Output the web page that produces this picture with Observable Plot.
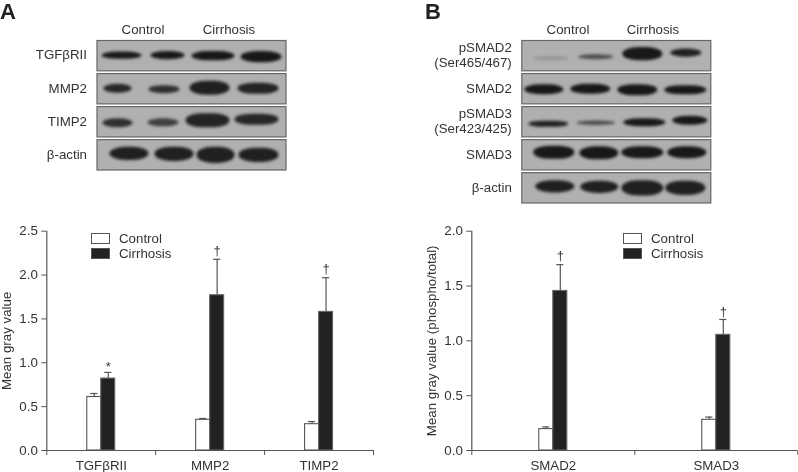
<!DOCTYPE html>
<html><head><meta charset="utf-8">
<script src="https://cdn.jsdelivr.net/npm/d3@7"></script>
<script src="https://cdn.jsdelivr.net/npm/@observablehq/plot@0.6"></script>
<style>
html,body{margin:0;padding:0;background:#fff;width:798px;height:472px;overflow:hidden;font-family:"Liberation Sans",Arial,sans-serif;color:#333}
.abs{position:absolute;will-change:transform}
.abs svg{overflow:visible;display:block;background:transparent}
.t{position:absolute;font-size:13.3px;line-height:15px;white-space:nowrap;color:#333;will-change:transform}
.letter{position:absolute;font-size:22px;font-weight:bold;line-height:22px;color:#222;will-change:transform}
.sw{position:absolute;width:17px;height:9px;border:1px solid #555;box-sizing:content-box}
</style></head><body>
<div id="root"></div>
<script>
// Panel A bar chart
const groupsA = ["TGFβRII","MMP2","TIMP2"];
const controlA = [0.61,0.35,0.30];
const controlAHigh = [0.65,0.365,0.33];
const cirrhosisA = [0.82,1.77,1.58];
const cirrhosisAHigh = [0.89,2.18,1.97];
const marksA = ["*","†","†"];
const markAY = [0.955,2.28,2.07];
// Panel B bar chart
const groupsB = ["SMAD2","SMAD3"];
const controlB = [0.195,0.28];
const controlBHigh = [0.215,0.305];
const cirrhosisB = [1.455,1.055];
const cirrhosisBHigh = [1.695,1.195];
const marksB = ["†","†"];
const markBY = [1.775,1.265];
// Blot rows: [left, right, centre, thickness, darkness] read in lane units
const rowsA = ["TGFβRII","MMP2","TIMP2","β-actin"];
const blotA = [
 [[5,45,15,7,1],[54,88,15,8,1],[95,138,15.5,9,1],[144,185,16.5,11,1]],
 [[7,35,15,9,.9],[52,83,16,8,.85],[93,133,14.5,14,.95],[141,182,15,11,.92]],
 [[6,36,16.5,9,.85],[51,82,16,8,.75],[89,133,14,14,.92],[138,182,13,11,.9]],
 [[13,52,14,13,.95],[58,97,14.5,14,.95],[100,138,15.5,16,.95],[142,182,15.5,14,.95]]
];
const rowsB = ["pSMAD2\n(Ser465/467)","SMAD2","pSMAD3\n(Ser423/425)","SMAD3","β-actin"];
const blotB = [
 [[12,47,18,3,.22],[57,92,16.5,5,.65],[101,141,13.5,13,1],[149,180,12.5,8,.95]],
 [[3,42,16,10,1],[49,89,15.5,10,1],[96,136,16.5,11,1],[143,185,16.5,9,1]],
 [[7,47,17.5,6,.95],[55,94,16.5,4.5,.65],[102,144,16,8,1],[151,186,14,9,1]],
 [[12,53,13,13,1],[58,97,13.5,13,1],[100,142,13,12,1],[146,185,13,12,1]],
 [[14,53,14,12,.95],[59,97,14.5,12,.95],[100,142,15.5,15,.95],[144,184,15.5,14,.95]]
];

const root = document.getElementById("root");
function place(el,left,top){const d=document.createElement("div");d.className="abs";d.style.left=left+"px";d.style.top=top+"px";d.appendChild(el);root.appendChild(d);}
function label(txt,x,y,cls,anchor){const s=document.createElement("div");s.className=cls||"t";s.textContent=txt;s.style.left=x+"px";s.style.top=y+"px";if(anchor==="middle")s.style.transform="translateX(-50%)";root.appendChild(s);}
function swatch(x,y,fill){const s=document.createElement("div");s.className="sw";s.style.left=x+"px";s.style.top=y+"px";s.style.background=fill;root.appendChild(s);}

function blot(rows,bands,left,marginLeft,height){
  const data = rows.flatMap((r,i)=>bands[i].map(b=>({row:r,x1:b[0],x2:b[1],y1:b[2]-b[3]/2,y2:b[2]+b[3]/2,o:b[4]})));
  const plot = Plot.plot({
    width:marginLeft+190,height,marginLeft,marginRight:1,marginTop:0,marginBottom:0,
    style:{background:"transparent",fontFamily:'"Liberation Sans",Arial,sans-serif',fontSize:"13.3px",color:"#333",overflow:"visible"},
    x:{domain:[0,189],axis:null},
    y:{domain:[30,0],axis:null},
    fy:{domain:rows,paddingInner:0.083,paddingOuter:0,round:false,axis:null,label:null},
    marks:[
      Plot.frame({fill:"#b0b0b0",stroke:"#666",strokeWidth:1.2}),
      Plot.rect(data,{fy:"row",x1:"x1",x2:"x2",y1:"y1",y2:"y2",fill:"#181818",fillOpacity:"o",rx:16,ry:8,ariaLabel:"band",
        render(index,scales,values,dimensions,context,next){const g=next(index,scales,values,dimensions,context);g.style.filter="blur(1.5px)";return g;}}),
      Plot.axisFy({anchor:"left",tickSize:0,tickPadding:10,label:null,lineHeight:1.13,fontSize:13.3,fill:"#333",dy:-1})
    ]
  });
  place(plot,left,40);
}

function bars(groups,control,controlHigh,cirr,cirrHigh,sig,sigY,cfg){
  const n=groups.length, w=cfg.barW, cap=cfg.capW;
  const rows=groups.map((g,i)=>({c:i+0.5,control:control[i],controlHigh:controlHigh[i],cirr:cirr[i],cirrHigh:cirrHigh[i],sig:sig[i],sigY:sigY[i]}));
  const font='"Liberation Sans",Arial,sans-serif';
  const plot=Plot.plot({
    width:cfg.width,height:257,marginLeft:cfg.ml,marginRight:cfg.mr,marginTop:15.7,marginBottom:22,
    style:{background:"transparent",fontFamily:font,fontSize:"13.3px",color:"#333",overflow:"visible"},
    x:{domain:[0,n],axis:null},
    y:{domain:[0,cfg.ymax],axis:null},
    marks:[
      // error bars
      Plot.ruleX(rows,{x:d=>d.c-w/2,y1:"control",y2:"controlHigh",stroke:"#555",strokeWidth:1.2}),
      Plot.ruleY(rows,{y:"controlHigh",x1:d=>d.c-w/2-cap,x2:d=>d.c-w/2+cap,stroke:"#555",strokeWidth:1.2}),
      Plot.ruleX(rows,{x:d=>d.c+w/2,y1:"cirr",y2:"cirrHigh",stroke:"#555",strokeWidth:1.2}),
      Plot.ruleY(rows,{y:"cirrHigh",x1:d=>d.c+w/2-cap,x2:d=>d.c+w/2+cap,stroke:"#555",strokeWidth:1.2}),
      // bars
      Plot.rectY(rows,{x1:d=>d.c-w,x2:"c",y1:0,y2:"control",fill:"#fff",stroke:"#555",strokeWidth:1.1}),
      Plot.rectY(rows,{x1:"c",x2:d=>d.c+w,y1:0,y2:"cirr",fill:"#222",stroke:"#666",strokeWidth:1.1}),
      // significance marks
      Plot.text(rows,{x:d=>d.c+w/2,y:"sigY",text:"sig",fontSize:13,fill:"#333"}),
      // axes
      Plot.ruleY([0],{stroke:"#555",strokeWidth:1.2}),
      Plot.ruleX([0],{stroke:"#555",strokeWidth:1.2}),
      Plot.axisX({ticks:d3.range(n+1),tickSize:5,tickFormat:()=>"",stroke:"#555",label:null}),
      Plot.axisX({ticks:rows.map(r=>r.c),tickSize:0,tickPadding:10,tickFormat:(d,i)=>groups[i],label:null,fontSize:13.3,fill:"#333"}),
      Plot.axisY({ticks:cfg.ticks,tickSize:5,tickPadding:4,tickFormat:d3.format(".1f"),label:cfg.label,labelAnchor:"center",labelArrow:"none",labelOffset:cfg.lo,fontSize:13.3,fill:"#333",stroke:"#555"})
    ]
  });
  place(plot,cfg.left,215);
}

label("A",0,1,"letter");
label("B",425,1,"letter");
label("Control",143,22,"t","middle");
label("Cirrhosis",229,22,"t","middle");
label("Control",567.7,22,"t","middle");
label("Cirrhosis",653,22,"t","middle");
blot(rowsA,blotA,0,96.5,129.5);
blot(rowsB,blotB,400,121.3,162.5);
bars(groupsA,controlA,controlAHigh,cirrhosisA,cirrhosisAHigh,marksA,markAY,
  {left:0,width:400,ml:46.3,mr:27,ymax:2.5,ticks:[0,.5,1,1.5,2,2.5],barW:0.1284,capW:0.033,label:"Mean gray value",lo:45});
bars(groupsB,controlB,controlBHigh,cirrhosisB,cirrhosisBHigh,marksB,markBY,
  {left:400,width:398,ml:71.3,mr:0.7,ymax:2,ticks:[0,.5,1,1.5,2],barW:0.086,capW:0.022,label:"Mean gray value (phospho/total)",lo:45.5});
swatch(90.7,233,"#fff");swatch(90.7,248,"#222");
label("Control",118.5,231);label("Cirrhosis",118.5,246);
swatch(622.7,233,"#fff");swatch(622.7,248,"#222");
label("Control",651,231);label("Cirrhosis",651,246);
</script></body></html>
